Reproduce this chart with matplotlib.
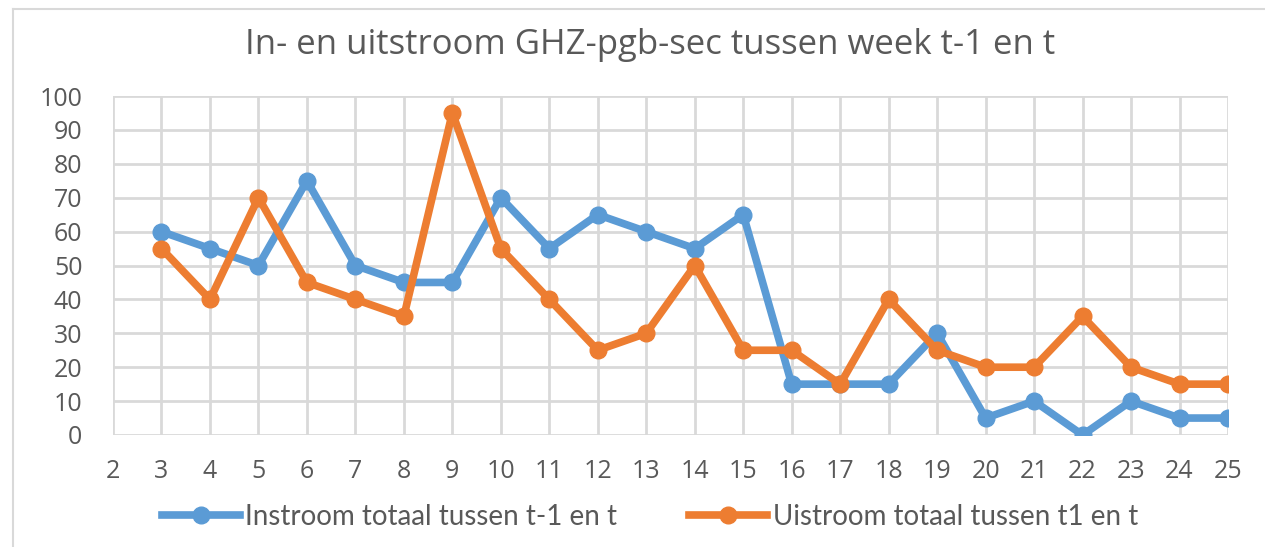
import matplotlib
matplotlib.use("Agg")
import matplotlib.pyplot as plt
from matplotlib.lines import Line2D

plt.rcParams['font.family'] = ['Open Sans', 'DejaVu Sans']

weeks = list(range(3, 26))
instroom = [60, 55, 50, 75, 50, 45, 45, 70, 55, 65, 60, 55, 65,
            15, 15, 15, 30, 5, 10, 0, 10, 5, 5]
uitstroom = [55, 40, 70, 45, 40, 35, 95, 55, 40, 25, 30, 50, 25,
             25, 15, 40, 25, 20, 20, 35, 20, 15, 15]
x_ticks = list(range(2, 26))
y_ticks = list(range(0, 101, 10))

title = "In- en uitstroom GHZ-pgb-sec tussen week t-1 en t"
label_in = "Instroom totaal tussen t-1 en t"
label_uit = "Uistroom totaal tussen t1 en t"

blue = "#5B9BD5"
orange = "#ED7D31"
grid_col = "#D9D9D9"
text_col = "#595959"

W, H = 1265, 547
fig = plt.figure(figsize=(W / 100, H / 100), dpi=100)
ax = fig.add_axes([113 / W, 1 - 435 / H, (1228 - 113) / W, (435 - 96) / H])

ax.plot(weeks, instroom, color=blue, lw=5.5, marker='o', ms=12,
        label=label_in, zorder=3, solid_joinstyle='round')
ax.plot(weeks, uitstroom, color=orange, lw=5.5, marker='o', ms=12,
        label=label_uit, zorder=3, solid_joinstyle='round')

ax.set_xlim(2, 25)
ax.set_ylim(0, 100)
ax.set_xticks(x_ticks)
ax.set_yticks(y_ticks)
ax.grid(True, color=grid_col, lw=2)
ax.set_axisbelow(True)
for s in ax.spines.values():
    s.set_visible(False)
ax.tick_params(length=0, labelsize=18, colors=text_col)
ax.tick_params(axis='x', pad=17)
ax.tick_params(axis='y', pad=22)
for lab in ax.get_xticklabels() + ax.get_yticklabels():
    lab.set_clip_on(False)

fig.text(650 / W, 1 - 45 / H, title, ha='center', va='center',
         fontsize=25, color=text_col)

leg = fig.legend(loc='center', bbox_to_anchor=(650 / W, 1 - 517 / H), ncol=2,
                 frameon=False, handlelength=2.8, columnspacing=2.6,
                 handletextpad=0.2, labelcolor=text_col,
                 prop={'family': ['Lato', 'DejaVu Sans'], 'size': 20})

# outer chart frame
fig.add_artist(Line2D([13 / W, 1], [1 - 9 / H, 1 - 9 / H], color=grid_col, lw=1.5))
fig.add_artist(Line2D([13 / W, 13 / W], [0, 1 - 9 / H], color=grid_col, lw=1.5))

fig.savefig("out.png", dpi=100)
